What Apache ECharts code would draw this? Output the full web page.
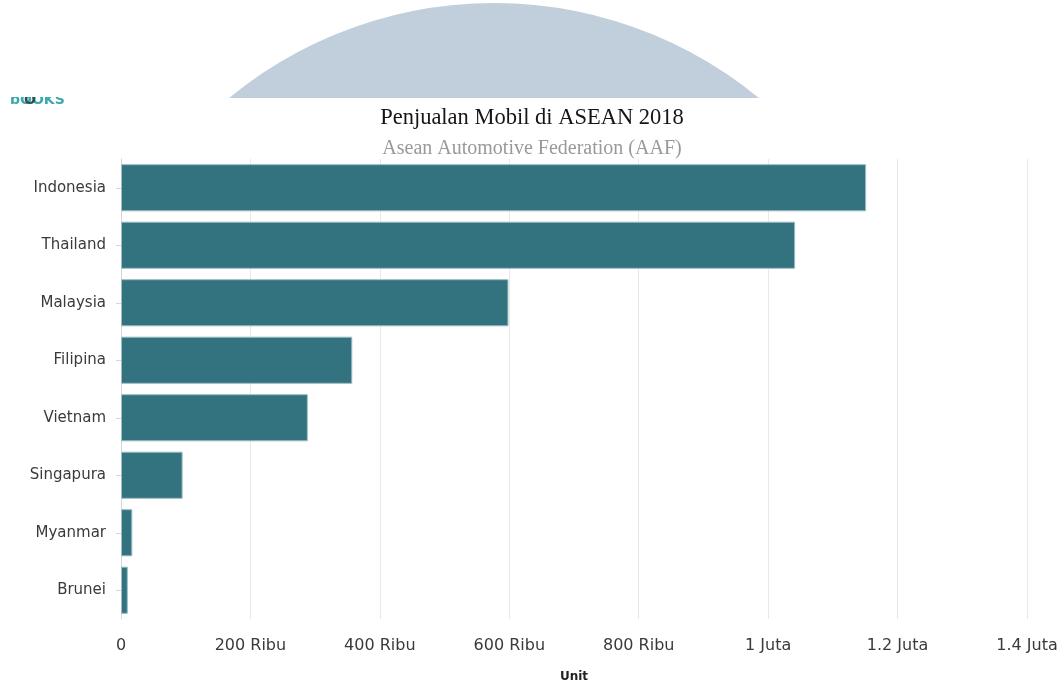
<!DOCTYPE html>
<html><head><meta charset="utf-8">
<script src="https://cdn.jsdelivr.net/npm/echarts@6/dist/echarts.min.js"></script>
<style>html,body{margin:0;padding:0;background:#fff}#c{width:1064px;height:681px}</style>
</head><body><div id="c"></div>
<script>
const categories = ["Indonesia","Thailand","Malaysia","Filipina","Vietnam","Singapura","Myanmar","Brunei"];
const sales = [1151413, 1041739, 598714, 357410, 288683, 95248, 17500, 10500];
const tickValues = [0, 200000, 400000, 600000, 800000, 1000000, 1200000, 1400000];
const titleText = "Penjualan Mobil di ASEAN 2018";
const subtitleText = "Asean Automotive Federation (AAF)";
const axisName = "Unit";

function fmt(v){
  if (v === 0) return "0";
  if (v < 1000000) return (v/1000) + " Ribu";
  return (v/1000000) + " Juta";
}

const chart = echarts.init(document.getElementById('c'));
chart.setOption({
  backgroundColor: '#fff',
  animation: false,
  graphic: [
    {type:'circle', shape:{cx:494, cy:420, r:417}, style:{fill:'#c1cedc'}, z:-5, silent:true},
    {type:'rect', shape:{x:0, y:98, width:1064, height:600}, style:{fill:'#fff'}, z:-4, silent:true},
    {type:'text', x:10, y:93, style:{text:'bOOKS', fill:'#3aa9a9', font:'bold 14px "DejaVu Sans"'}, z:-3, silent:true},
    {type:'text', x:24, y:93, style:{text:'O', fill:'#2f4f55', font:'bold 14px "DejaVu Sans"'}, z:-2, silent:true},
    {type:'rect', shape:{x:0, y:70, width:90, height:27}, style:{fill:'#fff'}, z:-1, silent:true}
  ],
  title: {
    text: titleText, subtext: subtitleText, left: 'center', top: 102, itemGap: 9,
    textStyle: {fontFamily:'"Liberation Serif", serif', fontSize: 22.5, fontWeight:'normal', color:'#151515'},
    subtextStyle: {fontFamily:'"Liberation Serif", serif', fontSize: 20, color:'#999'}
  },
  grid: {left: 121, right: 37, top: 159, bottom: 62, containLabel: false, outerBoundsMode: 'none'},
  xAxis: {
    type: 'value', min: 0, max: 1400000, interval: 200000,
    name: axisName, nameLocation: 'middle', nameGap: 52,
    nameTextStyle: {fontFamily:'"DejaVu Sans", sans-serif', fontSize: 12, fontWeight:'bold', color:'#222'},
    axisLine: {show:false}, axisTick: {show:false},
    axisLabel: {formatter: fmt, margin: 19, fontFamily:'"DejaVu Sans", sans-serif', fontSize: 16, color:'#3a3a3a'},
    splitLine: {show:true, lineStyle:{color:'#e8e8e8', width:1}}
  },
  yAxis: {
    type: 'category', data: categories, inverse: true,
    axisLine: {show:true, lineStyle:{color:'#d6d6d6'}},
    axisTick: {show:true, alignWithLabel:true, length:5, lineStyle:{color:'#d6d6d6'}},
    axisLabel: {margin: 15, fontFamily:'"DejaVu Sans", sans-serif', fontSize: 15, color:'#3a3a3a'},
    splitLine: {show:false}
  },
  series: [{
    type: 'bar', data: sales, barCategoryGap: '18%',
    itemStyle: {color:'#33737f', borderColor:'#9dbcc4', borderWidth:1}
  }]
});
</script></body></html>
